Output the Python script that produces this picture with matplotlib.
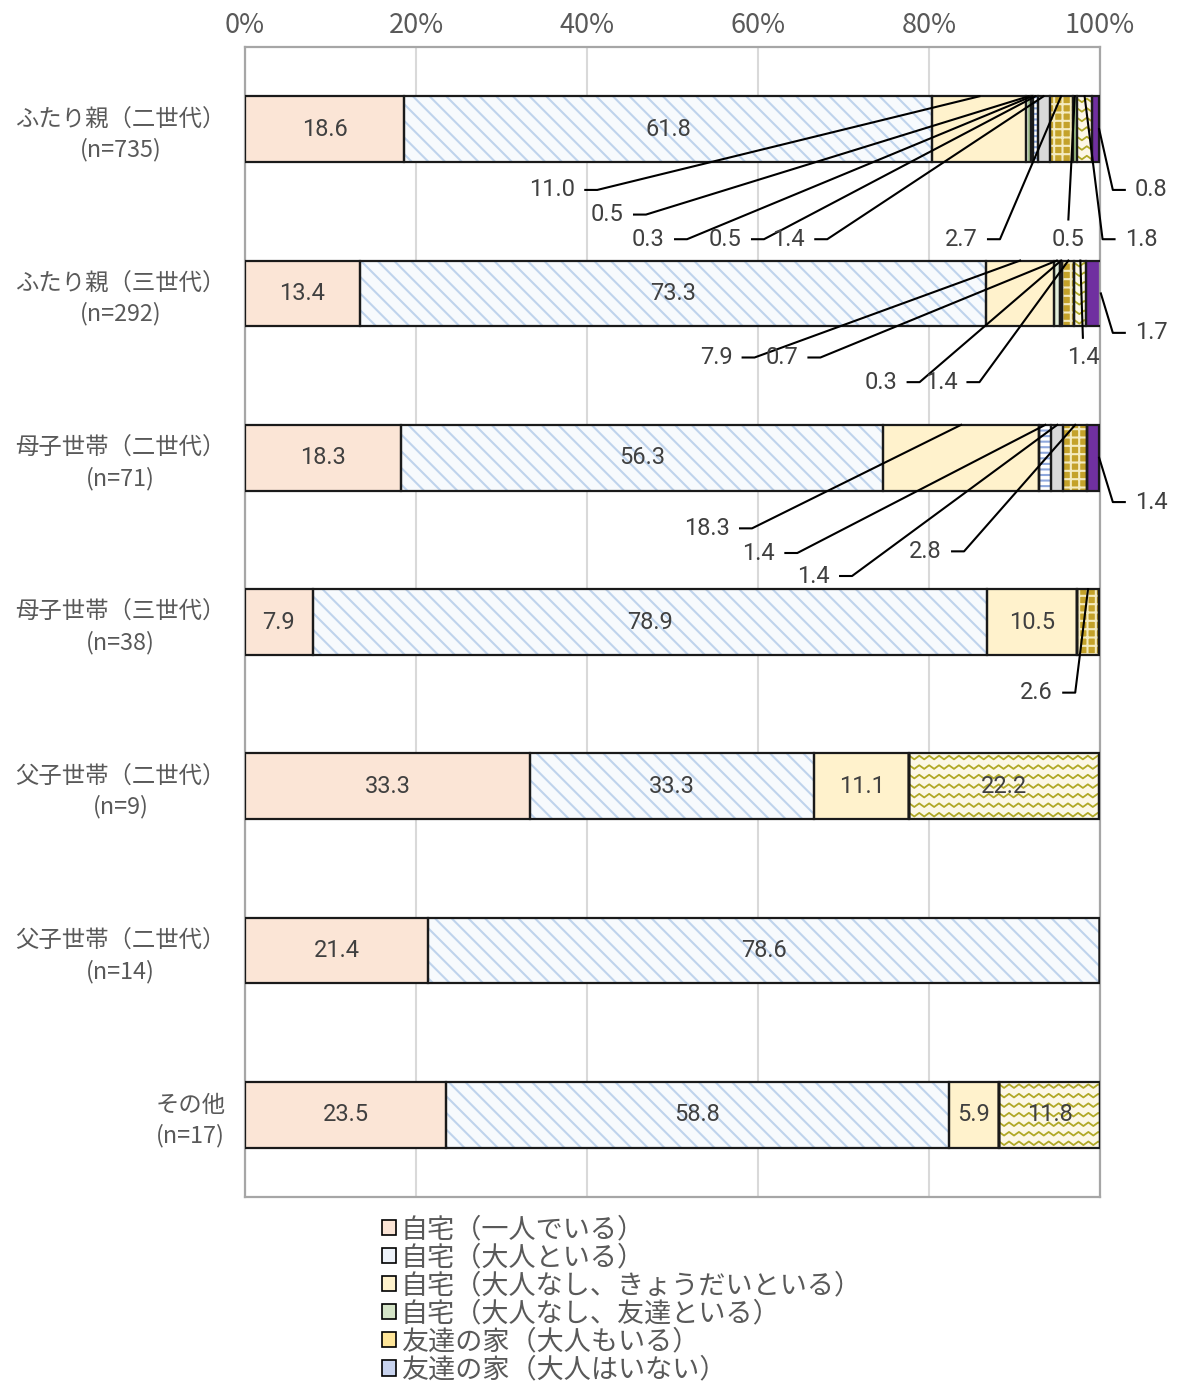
import numpy as np
import matplotlib
matplotlib.use('Agg')
import matplotlib.pyplot as plt
from matplotlib.patches import Patch

plt.rcParams['font.family'] = ['Noto Sans CJK JP', 'DejaVu Sans']
plt.rcParams['hatch.linewidth'] = 1.5

groups = ['ふたり親（二世代）\n(n=735)', 'ふたり親（三世代）\n(n=292)',
          '母子世帯（二世代）\n(n=71)', '母子世帯（三世代）\n(n=38)',
          '父子世帯（二世代）\n(n=9)', '父子世帯（二世代）\n(n=14)',
          'その他\n(n=17)']

legend_labels = ['自宅（一人でいる）', '自宅（大人といる）',
                 '自宅（大人なし、きょうだいといる）', '自宅（大人なし、友達といる）',
                 '友達の家（大人もいる）', '友達の家（大人はいない）']

home_alone     = [18.6, 13.4, 18.3, 7.9, 33.3, 21.4, 23.5]
home_adult     = [61.8, 73.3, 56.3, 78.9, 33.3, 78.6, 58.8]
home_sibling   = [11.0, 7.9, 18.3, 10.5, 11.1, 0, 5.9]
home_friend    = [0.5, 0.7, 0, 0, 0, 0, 0]
friend_adult   = [0.3, 0, 0, 0, 0, 0, 0]
friend_noadult = [0.5, 0.3, 1.4, 0, 0, 0, 0]
cat7           = [1.4, 0, 1.4, 0, 0, 0, 0]
cat8           = [2.7, 1.4, 2.8, 2.6, 0, 0, 0]
cat9           = [0.5, 0, 0, 0, 0, 0, 0]
cat10          = [1.8, 1.4, 0, 0, 22.2, 0, 11.8]
cat11          = [0.8, 1.7, 1.4, 0, 0, 0, 0]

series = [home_alone, home_adult, home_sibling, home_friend, friend_adult,
          friend_noadult, cat7, cat8, cat9, cat10, cat11]

# (facecolor, hatch, hatch colour)
styles = [
    ('#FBE5D6', None, None),
    ('#F7FAFD', r'\\', '#BFD3EC'),
    ('#FFF2CC', None, None),
    ('#E4EEDC', '||', '#9FBF8A'),
    ('#FFE699', None, None),
    ('#FFFFFF', '---', '#8FA8DC'),
    ('#D9D9D9', None, None),
    ('#C4A22A', '++', '#F4EBC0'),
    ('#A9D18E', None, None),
    ('#FCF7E6', 'zigzag', '#B0A826'),
    ('#7030A0', None, None),
]
legend_colors = ['#FBE5D6', '#EEF3FA', '#FFF2CC', '#D5E5C8', '#FFE699', '#C8D3EE']

# leader-line labels: group, series, label x (%), y offset, side, anchor
leaders = [
    (0, 2, 38.6, 0.37, 'l', 'top'), (0, 3, 44.3, 0.52, 'l', 'top'),
    (0, 4, 49.1, 0.67, 'l', 'top'), (0, 5, 58.1, 0.67, 'l', 'top'),
    (0, 6, 65.5, 0.67, 'l', 'top'), (0, 7, 85.7, 0.67, 'l', 'top'),
    (0, 8, 96.3, 0.67, 'b', 'top'), (0, 9, 102.9, 0.67, 'r', 'top'),
    (0, 10, 104.1, 0.37, 'r', 'end'),
    (1, 2, 57.0, 0.39, 'l', 'top'), (1, 3, 64.7, 0.39, 'l', 'top'),
    (1, 5, 76.3, 0.54, 'l', 'top'), (1, 7, 83.3, 0.54, 'l', 'top'),
    (1, 9, 98.0, 0.39, 'b', 'top'), (1, 10, 104.1, 0.24, 'r', 'end'),
    (2, 2, 56.7, 0.43, 'l', 'top'), (2, 5, 62.0, 0.58, 'l', 'top'),
    (2, 6, 68.4, 0.72, 'l', 'top'), (2, 7, 81.5, 0.57, 'l', 'top'),
    (2, 10, 104.1, 0.27, 'r', 'end'),
    (3, 7, 94.5, 0.43, 'l', 'top'),
]

fig = plt.figure(figsize=(11.81, 13.86), dpi=100)
ax = fig.add_axes([245 / 1181, 1 - 1197 / 1386, 855 / 1181, 1150 / 1386])

y = np.arange(len(groups))
bar_h = 0.4
left = np.zeros(len(groups))
starts = []
for vals, (fc, hatch, hc) in zip(series, styles):
    vals = np.array(vals, dtype=float)
    starts.append(left.copy())
    if hatch == 'zigzag':
        cont = ax.barh(y, vals, left=left, height=bar_h, color=fc, lw=0, zorder=2)
        for p in cont.patches:
            if p.get_width() <= 0:
                continue
            x0, y0, w, h = p.get_x(), p.get_y(), p.get_width(), p.get_height()
            xs = np.arange(x0, x0 + w + 1.2, 0.58)
            zig = np.where(np.arange(len(xs)) % 2 == 0, -1, 1) * 0.011
            for yr in np.arange(y0 + 0.025, y0 + h, 0.058):
                ln, = ax.plot(xs, yr + zig, color=hc, lw=1.3, zorder=2.5)
                ln.set_clip_path(p)
    elif hatch:
        ax.barh(y, vals, left=left, height=bar_h, color=fc, edgecolor=hc,
                hatch=hatch, lw=0, zorder=2)
    else:
        ax.barh(y, vals, left=left, height=bar_h, color=fc, lw=0, zorder=2)
    ax.barh(y, vals, left=left, height=bar_h, fill=False, edgecolor='#1A1A1A',
            lw=1.6, zorder=3)
    left = left + vals

num_font = dict(family=['Roboto', 'DejaVu Sans'], fontsize=17, color='#404040')

outside = {(g, s) for g, s, *_ in leaders}
for s, vals in enumerate(series):
    for g, v in enumerate(vals):
        if v > 0 and (g, s) not in outside:
            ax.text(starts[s][g] + v / 2, g, f'{v:.1f}', ha='center',
                    va='center', zorder=5, **num_font)

gap, dash = 1.2, 1.4
for g, s, lx, dy, side, anchor in leaders:
    v = series[s][g]
    ly = g + dy
    if anchor == 'end':
        ax_, ay_ = starts[s][g] + v, g
    else:
        ax_, ay_ = starts[s][g] + v / 2, g - bar_h / 2
    if side == 'l':
        ax.text(lx, ly, f'{v:.1f}', ha='right', va='center', zorder=5, **num_font)
        x1, x2 = lx + gap, lx + gap + dash
        ax.plot([x1, x2, ax_], [ly, ly, ay_], color='black', lw=1.5,
                zorder=4, clip_on=False)
    elif side == 'r':
        ax.text(lx, ly, f'{v:.1f}', ha='left', va='center', zorder=5, **num_font)
        x1, x2 = lx - gap, lx - gap - dash
        ax.plot([x1, x2, ax_], [ly, ly, ay_], color='black', lw=1.5,
                zorder=4, clip_on=False)
    else:
        ax.text(lx, ly, f'{v:.1f}', ha='center', va='center', zorder=5, **num_font)
        ax.plot([lx, ax_], [ly - 0.12, ay_], color='black', lw=1.5,
                zorder=4, clip_on=False)

ax.set_xlim(0, 100)
ax.set_ylim(len(groups) - 0.5, -0.5)
ax.set_xticks(np.arange(0, 101, 20))
ax.set_xticklabels([f'{t}%' for t in range(0, 101, 20)])
ax.xaxis.tick_top()
ax.tick_params(axis='x', length=0, pad=6, labelsize=19.5, labelcolor='#595959')
ax.set_yticks(y)
ax.set_yticklabels(groups)
ax.tick_params(axis='y', length=0, pad=14, labelsize=16.8, labelcolor='#595959')
for lab in ax.get_yticklabels():
    lab.set_multialignment('center')
    lab.set_linespacing(1.35)
ax.set_axisbelow(True)
ax.xaxis.grid(True, color='#D9D9D9', lw=1.5)
for sp in ax.spines.values():
    sp.set_color('#A6A6A6')
    sp.set_linewidth(1.6)

handles = [Patch(facecolor=c, edgecolor='black', lw=1.2) for c in legend_colors]
fig.legend(handles, legend_labels, loc='upper left',
           bbox_to_anchor=(382 / 1181, 1 - 1216 / 1386), frameon=False,
           fontsize=19.5, handlelength=0.5, handleheight=0.5, handletextpad=0.2,
           labelspacing=0.04, borderpad=0, borderaxespad=0, labelcolor='#595959')

fig.savefig('out.png', dpi=100)
